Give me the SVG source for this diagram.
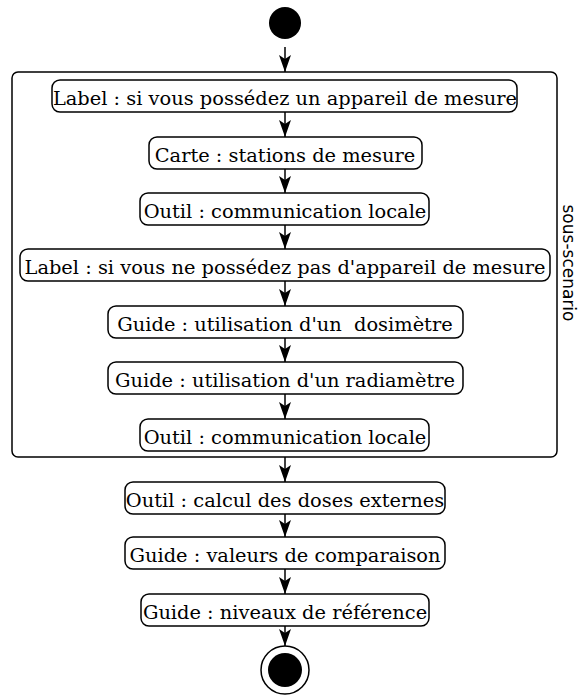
<svg xmlns="http://www.w3.org/2000/svg" width="578" height="698" viewBox="0 0 578 698">
<style>
  .box { fill: #ffffff; stroke: #000000; stroke-width: 1.5; }
  .lbl { font-family: "DejaVu Serif", "Liberation Serif", serif; font-size: 19.4px; fill: #000000; text-anchor: middle; }
  .edge { stroke: #000000; stroke-width: 1.5; fill: none; marker-end: url(#arr); }
  .side { font-family: "DejaVu Sans", "Liberation Sans", sans-serif; font-size: 17px; fill: #000000; text-anchor: middle; }
</style>
<defs>
  <marker id="arr" viewBox="0 0 17 12" refX="17" refY="6" markerWidth="17" markerHeight="12" markerUnits="userSpaceOnUse" orient="auto">
    <path d="M0,0 L17,6 L0,12 L4,6 Z" fill="#000000"/>
  </marker>
</defs>
<rect width="578" height="698" fill="#ffffff"/>

<g id="start"><circle cx="285" cy="23" r="16" fill="#000000"/></g>

<g id="sous-scenario">
  <rect class="box" x="12" y="72" width="545" height="385" rx="6"/>
  <text class="side" transform="translate(563,263) rotate(90)">sous-scenario</text>
</g>

<g id="n1"><rect class="box" x="52" y="80" width="465" height="32" rx="8"/><text class="lbl" x="285" y="104.5">Label : si vous possédez un appareil de mesure</text></g>
<g id="n2"><rect class="box" x="149" y="137" width="273" height="32" rx="8"/><text class="lbl" x="285" y="161.5">Carte : stations de mesure</text></g>
<g id="n3"><rect class="box" x="140" y="193" width="289" height="32" rx="8"/><text class="lbl" x="285" y="217.5">Outil : communication locale</text></g>
<g id="n4"><rect class="box" x="20" y="249" width="530" height="32" rx="8"/><text class="lbl" x="285" y="273.5">Label : si vous ne possédez pas d'appareil de mesure</text></g>
<g id="n5"><rect class="box" x="108" y="306" width="355" height="32" rx="8"/><text class="lbl" x="285" y="330.5" xml:space="preserve">Guide : utilisation d'un  dosimètre</text></g>
<g id="n6"><rect class="box" x="108" y="362" width="355" height="32" rx="8"/><text class="lbl" x="285" y="386.5">Guide : utilisation d'un radiamètre</text></g>
<g id="n7"><rect class="box" x="140" y="419" width="289" height="32" rx="8"/><text class="lbl" x="285" y="443.5">Outil : communication locale</text></g>
<g id="n8"><rect class="box" x="125" y="482" width="320" height="32" rx="8"/><text class="lbl" x="285" y="506.5">Outil : calcul des doses externes</text></g>
<g id="n9"><rect class="box" x="125" y="537" width="320" height="32" rx="8"/><text class="lbl" x="285" y="561.5">Guide : valeurs de comparaison</text></g>
<g id="n10"><rect class="box" x="141" y="594" width="288" height="32" rx="8"/><text class="lbl" x="285" y="618.5">Guide : niveaux de référence</text></g>

<g id="end"><circle cx="285" cy="670" r="24" fill="#ffffff" stroke="#000000" stroke-width="1.5"/><circle cx="285" cy="670" r="17" fill="#000000"/></g>

<g id="connectors">
  <line class="edge" x1="285" y1="47" x2="285" y2="72"/>
  <line class="edge" x1="285" y1="112" x2="285" y2="137"/>
  <line class="edge" x1="285" y1="169" x2="285" y2="193"/>
  <line class="edge" x1="285" y1="225" x2="285" y2="249"/>
  <line class="edge" x1="285" y1="281" x2="285" y2="306"/>
  <line class="edge" x1="285" y1="338" x2="285" y2="362"/>
  <line class="edge" x1="285" y1="394" x2="285" y2="419"/>
  <line class="edge" x1="285" y1="457" x2="285" y2="482"/>
  <line class="edge" x1="285" y1="514" x2="285" y2="537"/>
  <line class="edge" x1="285" y1="569" x2="285" y2="594"/>
  <line class="edge" x1="285" y1="626" x2="285" y2="646"/>
</g>
</svg>
